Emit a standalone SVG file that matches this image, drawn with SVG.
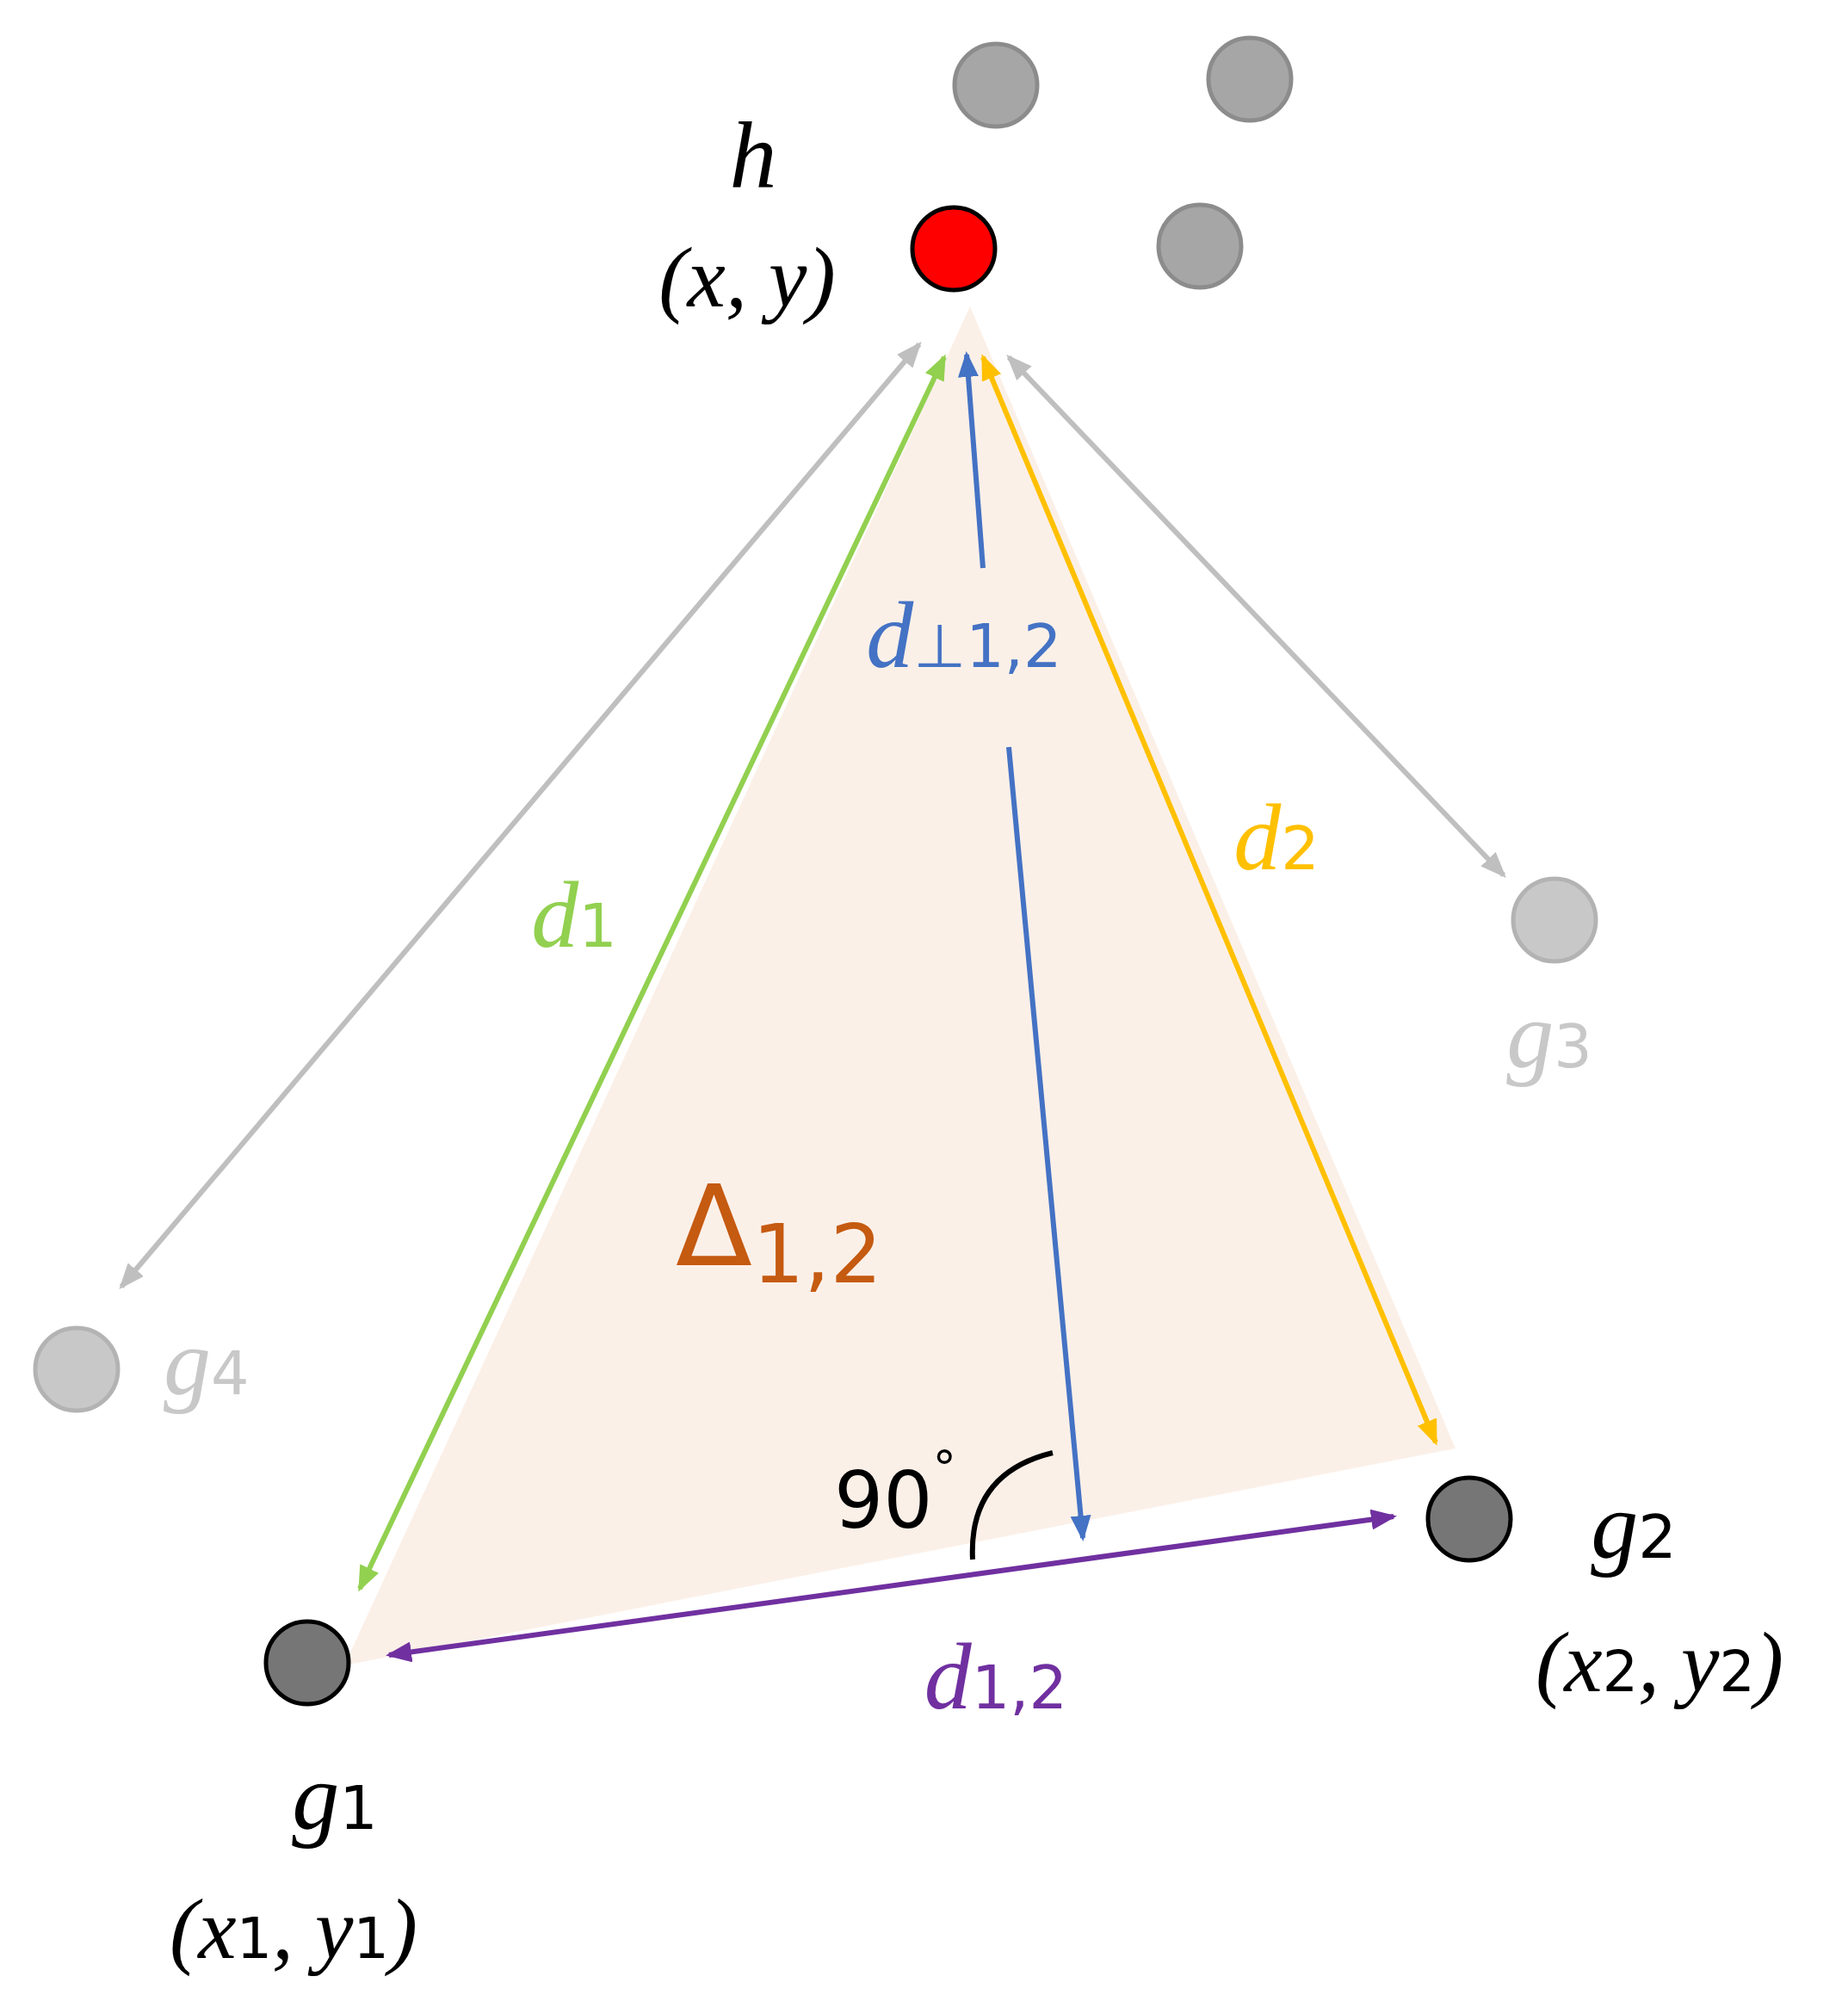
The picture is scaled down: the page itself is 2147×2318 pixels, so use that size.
<svg xmlns="http://www.w3.org/2000/svg" width="2147" height="2318" viewBox="0 0 2147 2318">
<style>
.t{font-family:"Liberation Serif","DejaVu Serif",serif;font-style:italic}
.s{font-style:normal;font-family:"DejaVu Sans","Liberation Sans",sans-serif}
.c{stroke-width:5}
</style>
<defs>
<marker id="ag" markerUnits="userSpaceOnUse" markerWidth="30" markerHeight="24" refX="26" refY="12" orient="auto-start-reverse"><path d="M0,0 L30,12 L0,24 Z" fill="#92d050"/></marker>
<marker id="ay" markerUnits="userSpaceOnUse" markerWidth="30" markerHeight="24" refX="26" refY="12" orient="auto-start-reverse"><path d="M0,0 L30,12 L0,24 Z" fill="#ffc000"/></marker>
<marker id="ab" markerUnits="userSpaceOnUse" markerWidth="30" markerHeight="24" refX="26" refY="12" orient="auto-start-reverse"><path d="M0,0 L30,12 L0,24 Z" fill="#4472c4"/></marker>
<marker id="ap" markerUnits="userSpaceOnUse" markerWidth="30" markerHeight="24" refX="26" refY="12" orient="auto-start-reverse"><path d="M0,0 L30,12 L0,24 Z" fill="#7030a0"/></marker>
<marker id="aa" markerUnits="userSpaceOnUse" markerWidth="30" markerHeight="24" refX="26" refY="12" orient="auto-start-reverse"><path d="M0,0 L30,12 L0,24 Z" fill="#bfbfbf"/></marker>
</defs>
<polygon id="triangle" points="1127,356 400,1935 1691,1683" fill="#fbf0e8"/>
<g id="connectors" fill="none">
<line x1="1068" y1="400" x2="141" y2="1495" stroke="#bfbfbf" stroke-width="6" marker-start="url(#aa)" marker-end="url(#aa)"/>
<line x1="1172" y1="415" x2="1747" y2="1017" stroke="#bfbfbf" stroke-width="6" marker-start="url(#aa)" marker-end="url(#aa)"/>
<line x1="1097" y1="415" x2="418" y2="1846" stroke="#92d050" stroke-width="6" marker-start="url(#ag)" marker-end="url(#ag)"/>
<line x1="1142" y1="415" x2="1668" y2="1676" stroke="#ffc000" stroke-width="6" marker-start="url(#ay)" marker-end="url(#ay)"/>
<line x1="1142" y1="660" x2="1123" y2="412" stroke="#4472c4" stroke-width="6" marker-end="url(#ab)"/>
<line x1="1172" y1="868" x2="1258" y2="1787" stroke="#4472c4" stroke-width="6" marker-end="url(#ab)"/>
<line x1="452" y1="1923" x2="1619" y2="1762" stroke="#7030a0" stroke-width="6" marker-start="url(#ap)" marker-end="url(#ap)"/>
<path d="M1130,1812 Q1125,1712 1223,1688" stroke="#000" stroke-width="6"/>
</g>
<g id="h"><circle cx="1108" cy="289" r="48" fill="#ff0000" stroke="#000" stroke-width="5"/>
<text class="t" x="875" y="218" font-size="110" text-anchor="middle">h</text>
<text class="t" x="868" y="356" font-size="100" text-anchor="middle">(x, y)</text></g>
<g id="others" fill="#a6a6a6" stroke="#8c8c8c" stroke-width="5">
<circle cx="1157" cy="99" r="48"/><circle cx="1452" cy="92" r="48"/><circle cx="1394" cy="286" r="48"/></g>
<g id="g3"><circle cx="1806" cy="1069" r="48" fill="#c8c8c8" stroke="#b3b3b3" stroke-width="5"/>
<text class="t" x="1800" y="1240" font-size="110" fill="#c8c8c8" text-anchor="middle">g<tspan class="s" font-size="70">3</tspan></text></g>
<g id="g4"><circle cx="89" cy="1591" r="48" fill="#c8c8c8" stroke="#b3b3b3" stroke-width="5"/>
<text class="t" x="190" y="1620" font-size="110" fill="#c8c8c8">g<tspan class="s" font-size="70">4</tspan></text></g>
<g id="g1"><circle cx="357" cy="1932" r="48" fill="#767676" stroke="#000" stroke-width="5"/>
<text class="t" x="389" y="2125" font-size="110" text-anchor="middle">g<tspan class="s" font-size="70">1</tspan></text>
<text class="t" x="341" y="2275" font-size="100" text-anchor="middle">(x<tspan class="s" font-size="65">1</tspan>, y<tspan class="s" font-size="65">1</tspan>)</text></g>
<g id="g2"><circle cx="1707" cy="1765" r="48" fill="#767676" stroke="#000" stroke-width="5"/>
<text class="t" x="1898" y="1810" font-size="110" text-anchor="middle">g<tspan class="s" font-size="70">2</tspan></text>
<text class="t" x="1928" y="1965" font-size="100" text-anchor="middle">(x<tspan class="s" font-size="65">2</tspan>, y<tspan class="s" font-size="65">2</tspan>)</text></g>
<g id="labels">
<text class="t" x="667" y="1100" font-size="110" fill="#92d050" text-anchor="middle">d<tspan class="s" font-size="70">1</tspan></text>
<text class="t" x="1483" y="1010" font-size="110" fill="#ffc000" text-anchor="middle">d<tspan class="s" font-size="70">2</tspan></text>
<text class="t" x="1120" y="775" font-size="110" fill="#4472c4" text-anchor="middle">d<tspan class="s" font-size="70">⊥1,2</tspan></text>
<text class="t" x="1157" y="1985" font-size="110" fill="#7030a0" text-anchor="middle">d<tspan class="s" font-size="70">1,2</tspan></text>
<text x="905" y="1470" font-size="130" fill="#c55a11" text-anchor="middle" font-family="DejaVu Sans,sans-serif">Δ<tspan font-size="95" dy="20">1,2</tspan></text>
<text x="1040" y="1775" font-size="90" text-anchor="middle" font-family="DejaVu Sans,sans-serif">90<tspan font-size="55" dy="-50">°</tspan></text>
</g>
</svg>
